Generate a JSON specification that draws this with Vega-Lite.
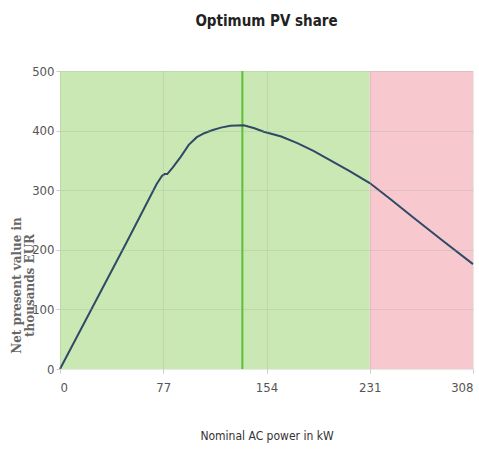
{
  "$schema": "https://vega.github.io/schema/vega-lite/v6.json",
  "width": 413,
  "height": 298,
  "autosize": {"type": "none"},
  "padding": {"left": 60, "top": 71, "right": 6, "bottom": 84},
  "background": "white",
  "config": {"view": {"stroke": null}},
  "title": {
    "text": "Optimum PV share",
    "font": "DejaVu Sans Condensed, Liberation Sans Narrow, sans-serif",
    "fontSize": 15,
    "fontWeight": "bold",
    "color": "#222222",
    "anchor": "middle",
    "offset": 36
  },
  "datasets": {
    "zones": [
      {"x0": 0, "x1": 231, "zone": "ok"},
      {"x0": 231, "x1": 308, "zone": "over"}
    ],
    "opt": [{"x": 136}],
    "npv": [
      {"p": 0, "v": 0},
      {"p": 25, "v": 107},
      {"p": 50, "v": 214},
      {"p": 72, "v": 310},
      {"p": 76, "v": 324},
      {"p": 78, "v": 327},
      {"p": 80, "v": 327},
      {"p": 84, "v": 338},
      {"p": 90, "v": 356},
      {"p": 96, "v": 376},
      {"p": 102, "v": 389},
      {"p": 108, "v": 396},
      {"p": 114, "v": 401},
      {"p": 120, "v": 405},
      {"p": 127, "v": 408},
      {"p": 137, "v": 409},
      {"p": 145, "v": 404},
      {"p": 152, "v": 398},
      {"p": 165, "v": 390},
      {"p": 177, "v": 379},
      {"p": 189, "v": 366},
      {"p": 201, "v": 351},
      {"p": 216, "v": 332},
      {"p": 231, "v": 312},
      {"p": 247, "v": 284},
      {"p": 263, "v": 255},
      {"p": 285, "v": 216},
      {"p": 308, "v": 176}
    ]
  },
  "layer": [
    {
      "data": {"name": "zones"},
      "mark": {"type": "rect"},
      "encoding": {
        "x": {"field": "x0", "type": "quantitative", "scale": {"domain": [0, 308], "nice": false},
          "axis": {
            "values": [0, 77, 154, 231, 308],
            "title": "Nominal AC power in kW",
            "titleFont": "DejaVu Sans Condensed, Liberation Sans Narrow, sans-serif",
            "titleFontSize": 12,
            "titleFontWeight": "normal",
            "titleColor": "#333333",
            "titlePadding": 36,
            "labelFont": "DejaVu Sans Condensed, Liberation Sans Narrow, sans-serif",
            "labelFontSize": 13,
            "labelColor": "#555555",
            "labelPadding": 8,
            "tickSize": 4,
            "tickColor": "#cccccc",
            "domain": false,
            "grid": true,
            "gridColor": "#9aa890",
            "gridOpacity": 0.25,
            "zindex": 1
          }},
        "x2": {"field": "x1"},
        "y": {"datum": 0, "type": "quantitative", "scale": {"domain": [0, 500], "nice": false},
          "axis": {
            "values": [0, 100, 200, 300, 400, 500],
            "title": ["Net present value in", "thousands EUR"],
            "titleFont": "DejaVu Serif",
            "titleFontSize": 12,
            "titleFontWeight": "bold",
            "titleColor": "#666666",
            "titleLineHeight": 13,
            "titleY": 214,
            "titleX": -37,
            "labelFont": "DejaVu Sans Condensed, Liberation Sans Narrow, sans-serif",
            "labelFontSize": 13,
            "labelColor": "#555555",
            "labelPadding": 2,
            "tickSize": 4,
            "tickColor": "#cccccc",
            "domain": false,
            "grid": true,
            "gridColor": "#9aa890",
            "gridOpacity": 0.25,
            "zindex": 1
          }},
        "y2": {"datum": 500},
        "color": {
          "field": "zone",
          "type": "nominal",
          "scale": {"domain": ["ok", "over"], "range": ["#c9e8b3", "#f7c8ce"]},
          "legend": null
        }
      }
    },
    {
      "data": {"name": "opt"},
      "mark": {"type": "rule", "color": "#5cc137", "strokeWidth": 2},
      "encoding": {
        "x": {"field": "x", "type": "quantitative"}
      }
    },
    {
      "data": {"name": "npv"},
      "mark": {"type": "line", "color": "#2f4a66", "strokeWidth": 2},
      "encoding": {
        "x": {"field": "p", "type": "quantitative"},
        "y": {"field": "v", "type": "quantitative"}
      }
    }
  ]
}
